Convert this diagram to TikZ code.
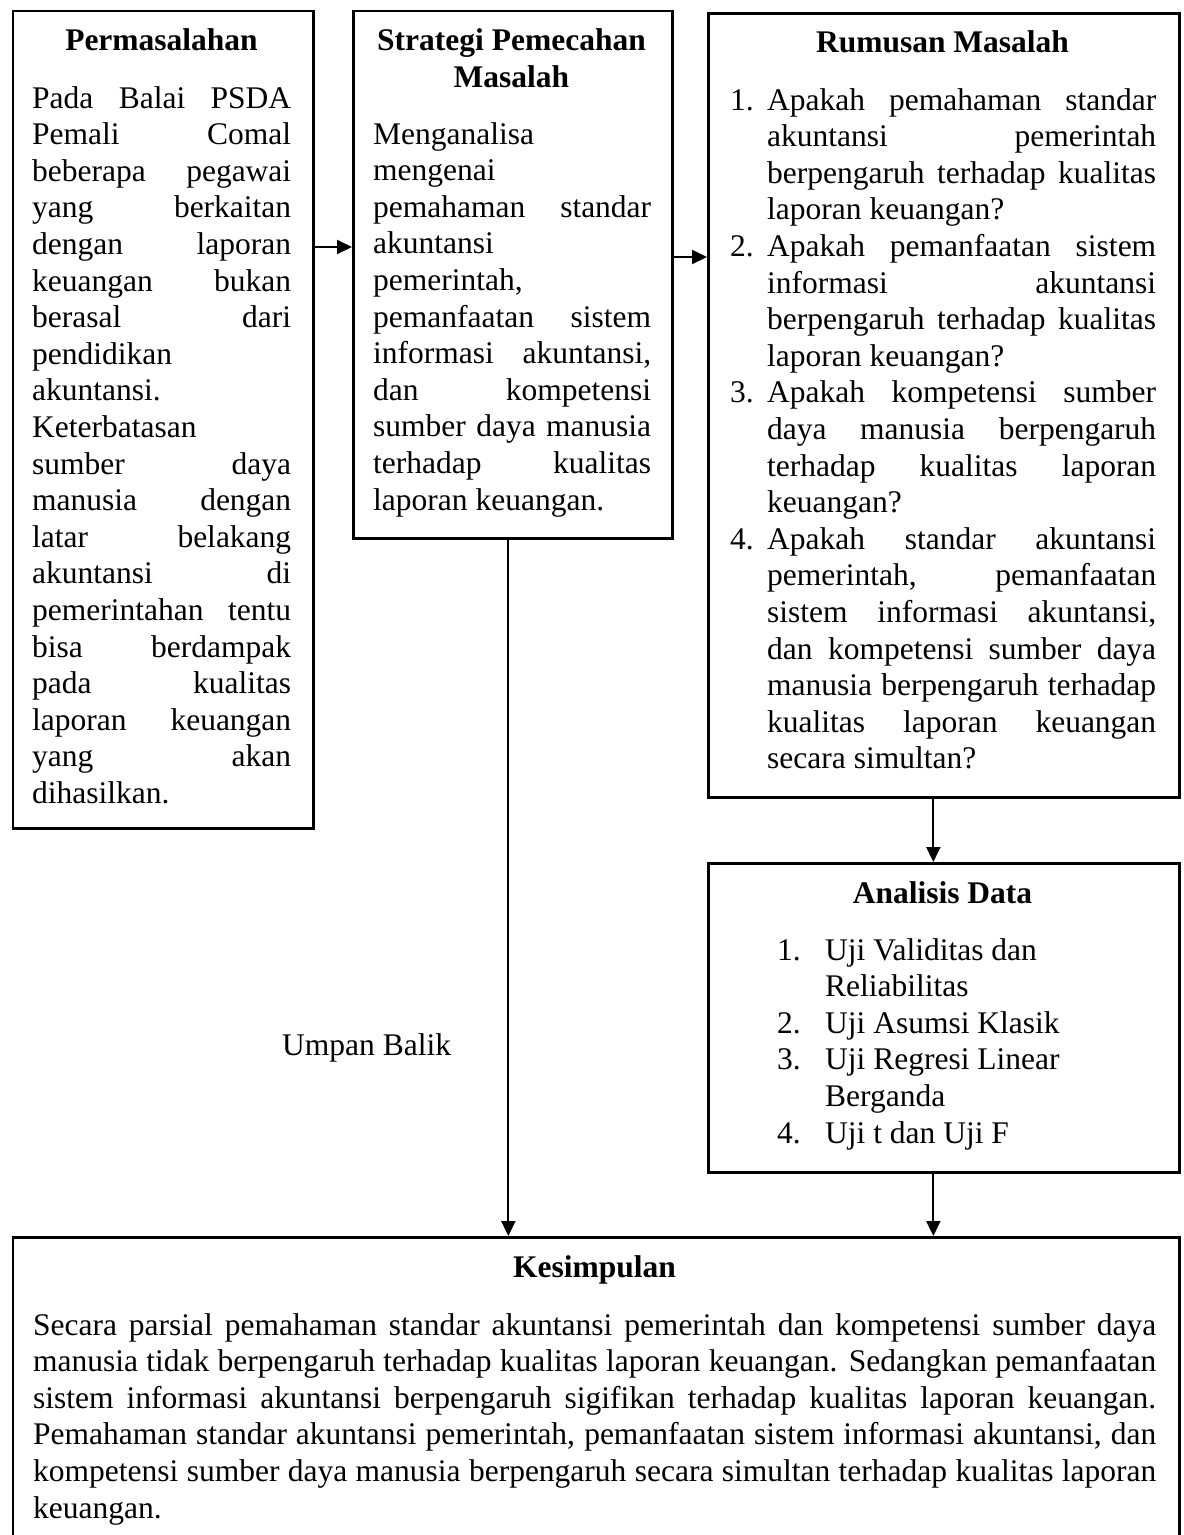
\documentclass[tikz,border=0pt]{standalone}
\usepackage{fontspec}
\setmainfont{Liberation Serif}
\usetikzlibrary{arrows.meta,calc}
\newcommand\jl[1]{\makebox[\linewidth][s]{#1}\par}
\newcommand\nl[1]{#1\par}
\newcommand\numA[1]{\leavevmode\llap{\makebox[37pt][l]{#1}}}
\newcommand\numB[1]{\leavevmode\llap{\makebox[48pt][l]{#1}}}
\newcommand\bodyfont{\fontsize{31.5}{36.6}\selectfont}
\tikzset{
  box/.style={draw, line width=2.7pt, inner sep=0pt, anchor=north west},
  ttl/.style={anchor=base, inner sep=0pt, font=\fontsize{31.5}{36.6}\selectfont\bfseries},
  txt/.style={anchor=base west, inner sep=0pt},
  arr/.style={line width=2pt, -{Triangle[length=15pt,width=14pt]}}
}
\begin{document}
\begin{tikzpicture}[x=1pt,y=-1pt]
\useasboundingbox (0,0) rectangle (1184,1535);
% boxes
\node[box, minimum width=300.5pt, minimum height=817.5pt] (perm) at (11.5,9.5) {};
\node[box, minimum width=319pt, minimum height=527.5pt] (strat) at (352,9.5) {};
\node[box, minimum width=471pt, minimum height=784pt] (rum) at (707,12) {};
\node[box, minimum width=471pt, minimum height=309pt] (ana) at (707,862) {};
\node[box, minimum width=1166.5pt, minimum height=320pt] (kes) at (11.5,1236) {};
% titles
\node[ttl] (permT) at (161.5,50) {Permasalahan};
\node[ttl] (stratT1) at (511.5,50) {Strategi Pemecahan};
\node[ttl] (stratT2) at (511.5,87) {Masalah};
\node[ttl] (rumT) at (942.5,52) {Rumusan Masalah};
\node[ttl] (anaT) at (942.5,903) {Analisis Data};
\node[ttl] (kesT) at (594.5,1277) {Kesimpulan};
% texts
\node[txt] (permX) at (32,108) {\parbox[t]{259pt}{\bodyfont
\jl{Pada Balai PSDA}
\jl{Pemali Comal}
\jl{beberapa pegawai}
\jl{yang berkaitan}
\jl{dengan laporan}
\jl{keuangan bukan}
\jl{berasal dari}
\nl{pendidikan}
\nl{akuntansi.}
\nl{Keterbatasan}
\jl{sumber daya}
\jl{manusia dengan}
\jl{latar belakang}
\jl{akuntansi di}
\jl{pemerintahan tentu}
\jl{bisa berdampak}
\jl{pada kualitas}
\jl{laporan keuangan}
\jl{yang akan}
\nl{dihasilkan.}}};
\node[txt] (stratX) at (373,144) {\parbox[t]{278pt}{\bodyfont
\nl{Menganalisa}
\nl{mengenai}
\jl{pemahaman standar}
\nl{akuntansi}
\nl{pemerintah,}
\jl{pemanfaatan sistem}
\jl{informasi akuntansi,}
\jl{dan kompetensi}
\jl{sumber daya manusia}
\jl{terhadap kualitas}
\nl{laporan keuangan.}}};
\node[txt] (rumX) at (767,110) {\parbox[t]{389pt}{\bodyfont
\numA{1.}\jl{Apakah pemahaman standar}
\jl{akuntansi pemerintah}
\jl{berpengaruh terhadap kualitas}
\nl{laporan keuangan?}
\numA{2.}\jl{Apakah pemanfaatan sistem}
\jl{informasi akuntansi}
\jl{berpengaruh terhadap kualitas}
\nl{laporan keuangan?}
\numA{3.}\jl{Apakah kompetensi sumber}
\jl{daya manusia berpengaruh}
\jl{terhadap kualitas laporan}
\nl{keuangan?}
\numA{4.}\jl{Apakah standar akuntansi}
\jl{pemerintah, pemanfaatan}
\jl{sistem informasi akuntansi,}
\jl{dan kompetensi sumber daya}
\jl{manusia berpengaruh terhadap}
\jl{kualitas laporan keuangan}
\nl{secara simultan?}}};
\node[txt] (anaX) at (825,960) {\parbox[t]{340pt}{\bodyfont
\numB{1.}\nl{Uji Validitas dan}
\nl{Reliabilitas}
\numB{2.}\nl{Uji Asumsi Klasik}
\numB{3.}\nl{Uji Regresi Linear}
\nl{Berganda}
\numB{4.}\nl{Uji t dan Uji F}}};
\node[txt] (kesX) at (33,1335) {\parbox[t]{1123pt}{\bodyfont
\jl{Secara parsial pemahaman standar akuntansi pemerintah dan kompetensi sumber daya}
\jl{manusia tidak berpengaruh terhadap kualitas laporan keuangan. Sedangkan pemanfaatan}
\jl{sistem informasi akuntansi berpengaruh sigifikan terhadap kualitas laporan keuangan.}
\jl{Pemahaman standar akuntansi pemerintah, pemanfaatan sistem informasi akuntansi, dan}
\jl{kompetensi sumber daya manusia berpengaruh secara simultan terhadap kualitas laporan}
\nl{keuangan.}}};
\node[txt, font=\bodyfont] (umpan) at (282,1055) {Umpan Balik};
% connectors
\coordinate (a1) at ([yshift=-237.5pt]perm.north east);
\draw[arr] (a1) -- (a1 -| strat.west);
\coordinate (a2) at ([yshift=-247.5pt]strat.north east);
\draw[arr] (a2) -- (a2 -| rum.west);
\coordinate (a3) at ([xshift=-10.5pt]rum.south);
\draw[arr] (a3) -- (a3 |- ana.north);
\coordinate (a4) at ([xshift=-10.5pt]ana.south);
\draw[arr] (a4) -- (a4 |- kes.north);
\coordinate (a5) at ([xshift=-4.5pt]strat.south);
\draw[arr] (a5) -- (a5 |- kes.north);
\end{tikzpicture}
\end{document}
